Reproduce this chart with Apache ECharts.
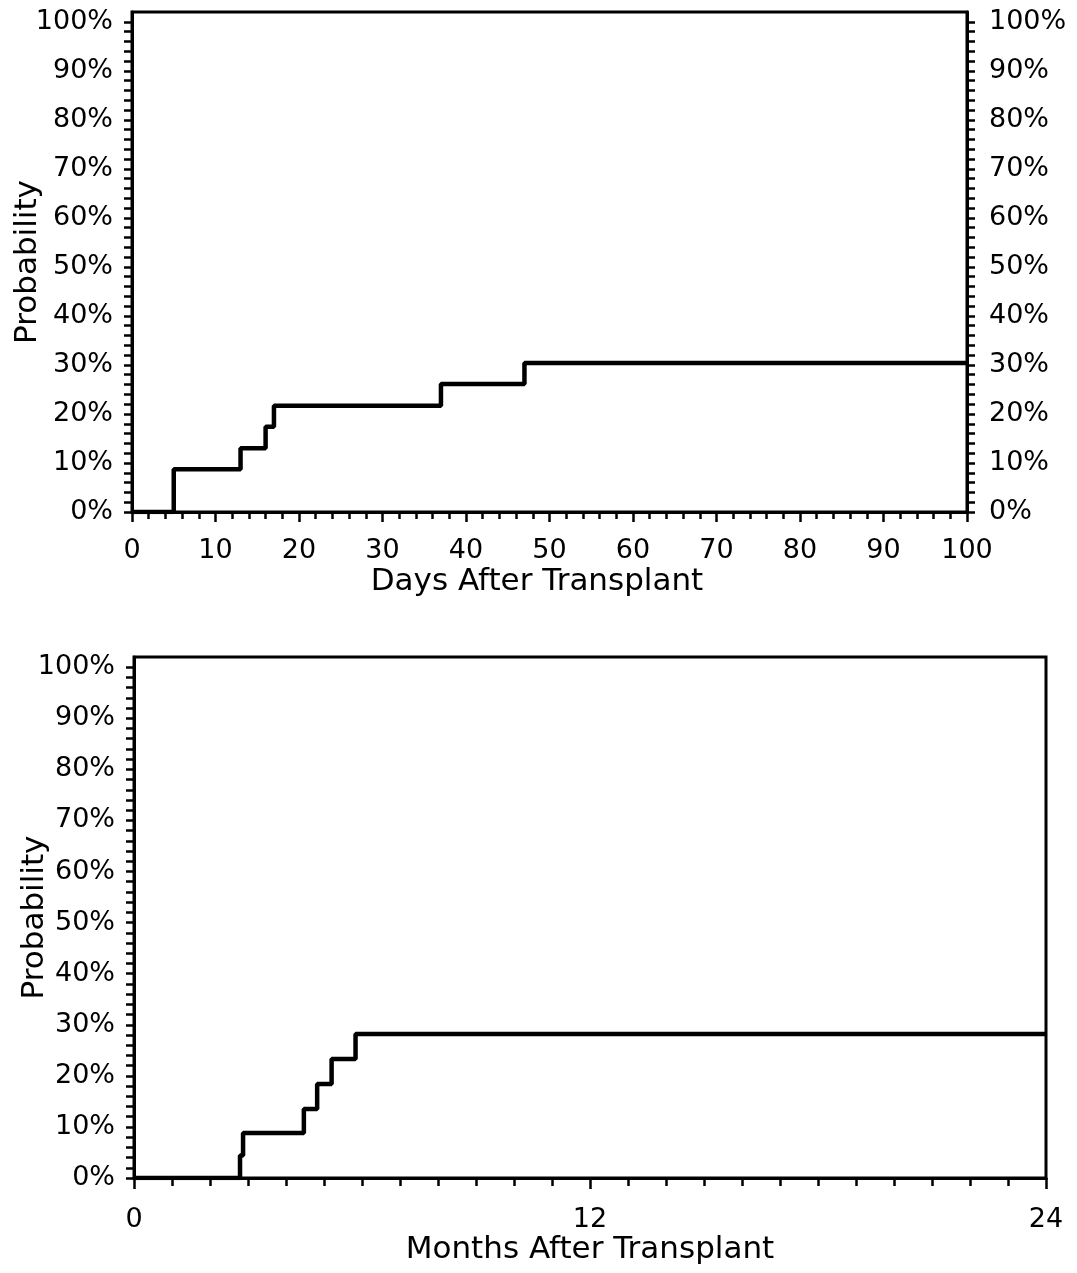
<!DOCTYPE html>
<html>
<head>
<meta charset="utf-8">
<script src="https://cdn.jsdelivr.net/npm/echarts@6/dist/echarts.min.js"></script>
<style>
  html, body { margin: 0; padding: 0; background: #fff; }
  #main { width: 1077px; height: 1273px; }
</style>
</head>
<body>
<div id="main"></div>
<script>
// top panel: days after transplant (step curve)
var daysX = [0, 5, 13, 16, 17, 37, 47, 100];
var daysY = [0, 8.7, 13.0, 17.4, 21.7, 26.1, 30.4, 30.4];
// bottom panel: months after transplant
var monthsX = [0, 2.79, 2.87, 4.47, 4.82, 5.2, 5.83, 24];
var monthsY = [0, 4.4, 8.8, 13.5, 18.4, 23.3, 28.2, 28.2];
var daysTicks = [0, 10, 20, 30, 40, 50, 60, 70, 80, 90, 100];
var monthsTicks = [0, 12, 24];

var FONT = 'DejaVu Sans';
var black = '#000';

function pairs(xs, ys) {
  return xs.map(function (x, i) { return [x, ys[i]]; });
}

function pctLabel(v) {
  return (v % 10 === 0 && v <= 100) ? v + '%' : '';
}

function yAxisDef(gridIndex, position, showName, nameGap) {
  return {
    type: 'value',
    gridIndex: gridIndex,
    position: position,
    min: 0,
    max: 102,
    interval: 2,
    name: showName ? 'Probability' : '',
    nameLocation: 'middle',
    nameGap: nameGap,
    nameRotate: 90,
    nameMoveOverlap: false,
    nameTextStyle: { fontFamily: FONT, fontSize: 31, color: black },
    axisLine: { show: true, lineStyle: { color: black, width: 3 } },
    axisTick: { show: true, inside: false, length: 8, lineStyle: { color: black, width: 2.5 } },
    axisLabel: {
      show: true, formatter: pctLabel, fontFamily: FONT, fontSize: 27, color: black,
      margin: position === 'left' ? 19 : 22,
      showMaxLabel: false
    },
    splitLine: { show: false }
  };
}

var option = {
  backgroundColor: '#fff',
  animation: false,
  grid: [
    { left: 132, right: 110, top: 12, bottom: 761, show: true, borderColor: black, borderWidth: 3,
      containLabel: false, outerBoundsMode: 'none' },
    { left: 134, right: 31, top: 657, bottom: 95, show: true, borderColor: black, borderWidth: 3,
      containLabel: false, outerBoundsMode: 'none' }
  ],
  xAxis: [
    {
      type: 'value',
      gridIndex: 0,
      min: 0,
      max: 100,
      interval: 10,
      name: 'Days After Transplant',
      nameLocation: 'middle',
      nameGap: 54,
      nameMoveOverlap: false,
      nameTextStyle: { fontFamily: FONT, fontSize: 31, color: black, padding: [0, 25, 0, 0] },
      axisLine: { show: true, lineStyle: { color: black, width: 3 } },
      axisTick: { show: true, length: 10, lineStyle: { color: black, width: 2.5 } },
      minorTick: { show: true, splitNumber: 5, length: 7, lineStyle: { color: black, width: 2.5 } },
      axisLabel: {
        fontFamily: FONT, fontSize: 27, color: black, margin: 25,
        formatter: function (v) { return daysTicks.indexOf(v) >= 0 ? String(v) : ''; }
      },
      splitLine: { show: false }
    },
    {
      type: 'value',
      gridIndex: 1,
      min: 0,
      max: 24,
      interval: 12,
      name: 'Months After Transplant',
      nameLocation: 'middle',
      nameGap: 56,
      nameMoveOverlap: false,
      nameTextStyle: { fontFamily: FONT, fontSize: 31, color: black },
      axisLine: { show: true, lineStyle: { color: black, width: 3 } },
      axisTick: { show: true, length: 11, lineStyle: { color: black, width: 2.5 } },
      minorTick: { show: true, splitNumber: 12, length: 8, lineStyle: { color: black, width: 2.5 } },
      axisLabel: {
        fontFamily: FONT, fontSize: 27, color: black, margin: 28,
        formatter: function (v) { return monthsTicks.indexOf(v) >= 0 ? String(v) : ''; }
      },
      splitLine: { show: false }
    }
  ],
  yAxis: [
    yAxisDef(0, 'left', true, 89),
    yAxisDef(0, 'right', false, 0),
    yAxisDef(1, 'left', true, 84)
  ],
  series: [
    {
      type: 'line',
      xAxisIndex: 0,
      yAxisIndex: 0,
      step: 'end',
      symbol: 'none',
      lineStyle: { color: black, width: 4.5 },
      data: pairs(daysX, daysY)
    },
    {
      type: 'line',
      xAxisIndex: 1,
      yAxisIndex: 2,
      step: 'end',
      symbol: 'none',
      lineStyle: { color: black, width: 4.5 },
      data: pairs(monthsX, monthsY)
    }
  ]
};

var chart = echarts.init(document.getElementById('main'));
chart.setOption(option);
</script>
</body>
</html>
